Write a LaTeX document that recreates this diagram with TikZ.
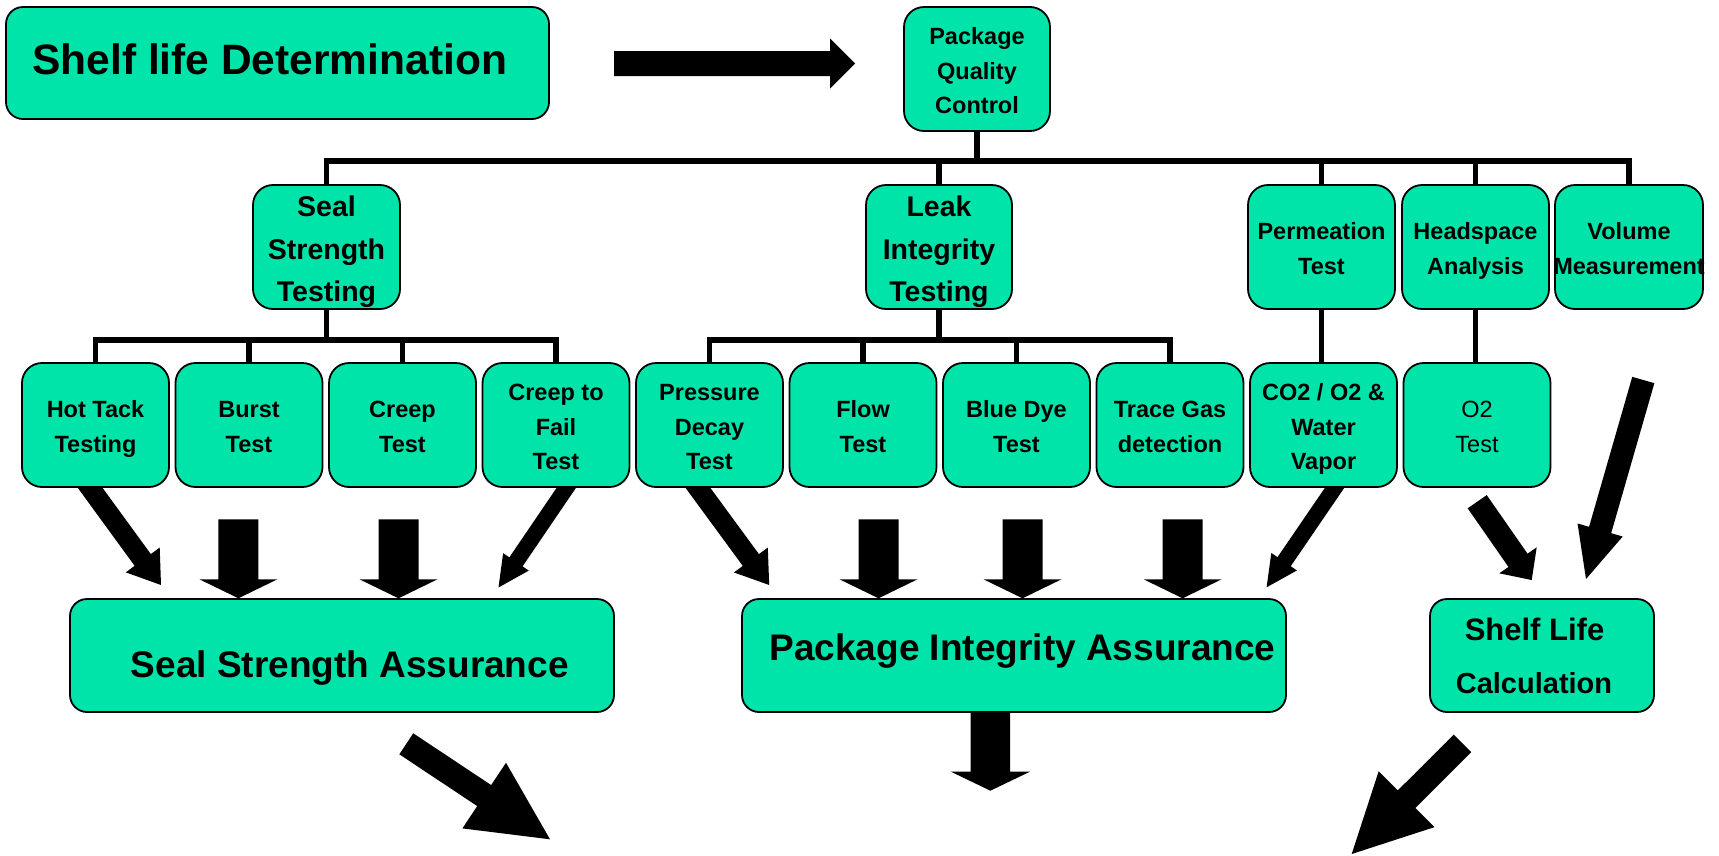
\documentclass[tikz,border=0pt]{standalone}
\usepackage{fontspec}
\setmainfont{Liberation Sans}
\usetikzlibrary{calc}

\definecolor{boxgreen}{RGB}{0,228,170}

\pgfdeclarelayer{background}
\pgfsetlayers{background,main}

% uniform line extents so every multi-line label centres the same way
\newcommand\topstrut{\vrule width 0pt height 1.07em depth 0pt\relax}
\newcommand\botstrut{\vrule width 0pt height 0pt depth 0.213em\relax}

% block arrow: #1 start, #2 tip, #3 half shaft width, #4 half head width, #5 head length
\newcommand\blockarrow[5]{%
  \coordinate (babase) at ($(#2)!#5!(#1)$);
  \fill[arrowfill] ($(#1)!#3!90:(#2)$) -- ($(babase)!#3!-90:(#1)$)
    -- ($(babase)!#4!-90:(#1)$) -- (#2) -- ($(babase)!#4!90:(#1)$)
    -- ($(babase)!#3!90:(#1)$) -- ($(#1)!#3!-90:(#2)$) -- cycle;
}

\begin{document}
\begin{tikzpicture}[x=1pt, y=-1pt,
  box/.style={draw=black, line width=1.8pt, fill=boxgreen, rounded corners=20pt,
    inner sep=0pt, align=center, minimum width=147pt, minimum height=124pt,
    font=\bfseries\fontsize{23.5pt}{34.5pt}\selectfont},
  headbox/.style={box, font=\bfseries\fontsize{28.5pt}{42.5pt}\selectfont},
  widebox/.style={draw=black, line width=1.8pt, fill=boxgreen, rounded corners=17pt,
    inner sep=0pt, minimum width=544pt, minimum height=113pt},
  bigtext/.style={anchor=base, inner sep=0pt, font=\bfseries\fontsize{37pt}{44pt}\selectfont},
  bus/.style={draw=black, line width=5.5pt, line join=miter, line cap=butt},
  arrowfill/.style={fill=black}]

\useasboundingbox (0,0) rectangle (1719,855);

% ---------- top level ----------
\node[box, minimum width=543pt, minimum height=112pt, rounded corners=17pt] (sld) at (277.5,63) {};
\node[anchor=base, inner sep=0pt, font=\bfseries\fontsize{42.5pt}{50pt}\selectfont] (sldtext) at (269.7,74) {Shelf life Determination};
\node[box, minimum width=146pt] (pqc) at (977,69) {\topstrut Package\\Quality\\Control\botstrut};

% ---------- second level ----------
\node[headbox] (seal) at (326.5,247) {\topstrut Seal\\Strength\\Testing\botstrut};
\node[headbox, minimum width=146pt] (leak) at (939,247) {\topstrut Leak\\Integrity\\Testing\botstrut};
\node[box] (perm) at (1321.5,247) {\topstrut Permeation\\Test\botstrut};
\node[box] (head) at (1475.5,247) {\topstrut Headspace\\Analysis\botstrut};
\node[box, minimum width=148pt] (vol) at (1629,247) {\topstrut Volume\\\makebox[0pt]{Measurement}\botstrut};

% ---------- individual tests ----------
\node[box] (hot)   at (95.5,425)  {\topstrut Hot Tack\\Testing\botstrut};
\node[box] (burst) at (249,425)   {\topstrut Burst\\Test\botstrut};
\node[box] (creep) at (402.5,425) {\topstrut Creep\\Test\botstrut};
\node[box] (ctf)   at (556,425)   {\topstrut Creep to\\Fail\\Test\botstrut};
\node[box] (pd)    at (709.5,425) {\topstrut Pressure\\Decay\\Test\botstrut};
\node[box] (flow)  at (863,425)   {\topstrut Flow\\Test\botstrut};
\node[box] (dye)   at (1016.5,425) {\topstrut Blue Dye\\Test\botstrut};
\node[box] (trace) at (1170,425)  {\topstrut Trace Gas\\detection\botstrut};
\node[box] (co2)   at (1323.5,425) {\topstrut CO2 / O2 \&\\Water\\Vapor\botstrut};
\node[box, font=\fontsize{23.5pt}{34.5pt}\selectfont] (otwo) at (1477,425) {\topstrut O2\\Test\botstrut};

% ---------- results ----------
\node[widebox] (ssa) at (342,655.5) {};
\node[bigtext] (ssatext) at (349.8,677) {Seal Strength Assurance};
\node[widebox] (pia) at (1014,655.5) {};
\node[bigtext] (piatext) at (1022.5,660) {Package Integrity Assurance};
\node[widebox, minimum width=224pt] (slc) at (1542,655.5) {};
\node[anchor=base, inner sep=0pt, font=\bfseries\fontsize{31pt}{37pt}\selectfont] (slctexta) at (1534.5,640) {Shelf Life};
\node[anchor=base, inner sep=0pt, font=\bfseries\fontsize{29pt}{35pt}\selectfont] (slctextb) at (1534,693) {Calculation};

\begin{pgfonlayer}{background}
  \fill[white] (0,0) rectangle (1719,855);

  % tree connectors
  \coordinate (busa) at (0,161);
  \coordinate (busb) at (0,340);
  \draw[bus] (seal.north) -- (seal.north |- busa) -- (vol.north |- busa) -- (vol.north);
  \draw[bus] (pqc.south) -- (pqc.south |- busa);
  \foreach \n in {leak,perm,head} \draw[bus] (\n.north) -- (\n.north |- busa);

  \draw[bus] (hot.north) -- (hot.north |- busb) -- (ctf.north |- busb) -- (ctf.north);
  \foreach \n in {burst,creep} \draw[bus] (\n.north) -- (\n.north |- busb);
  \draw[bus] (seal.south) -- (seal.south |- busb);

  \draw[bus] (pd.north) -- (pd.north |- busb) -- (trace.north |- busb) -- (trace.north);
  \foreach \n in {flow,dye} \draw[bus] (\n.north) -- (\n.north |- busb);
  \draw[bus] (leak.south) -- (leak.south |- busb);

  \draw[bus] (perm.south) -- (perm.south |- co2.north);
  \draw[bus] (head.south) -- (head.south |- otwo.north);

  % block arrows
  \coordinate (topS) at (614,63.5);    \coordinate (topT) at (855,63.5);
  \blockarrow{topS}{topT}{12.5pt}{25pt}{25pt}

  \coordinate (hotS) at (83,478);      \coordinate (hotT) at (161,585);
  \blockarrow{hotS}{hotT}{10pt}{21pt}{31pt}
  \coordinate (burstS) at (238.4,519.3); \coordinate (burstT) at (238.4,598.3);
  \blockarrow{burstS}{burstT}{20pt}{39pt}{19pt}
  \coordinate (creepS) at (398.5,519.3); \coordinate (creepT) at (398.5,598.3);
  \blockarrow{creepS}{creepT}{20pt}{39pt}{19pt}
  \coordinate (ctfS) at (573,478);     \coordinate (ctfT) at (498.5,587.5);
  \blockarrow{ctfS}{ctfT}{8pt}{15.5pt}{31pt}

  \coordinate (pdS) at (690.7,478);    \coordinate (pdT) at (769.2,585);
  \blockarrow{pdS}{pdT}{10pt}{21pt}{31pt}
  \coordinate (flowS) at (878.5,519.3); \coordinate (flowT) at (878.5,598.3);
  \blockarrow{flowS}{flowT}{20pt}{39pt}{19pt}
  \coordinate (dyeS) at (1022.5,519.3); \coordinate (dyeT) at (1022.5,598.3);
  \blockarrow{dyeS}{dyeT}{20pt}{39pt}{19pt}
  \coordinate (traceS) at (1182.6,519.3); \coordinate (traceT) at (1182.6,598.3);
  \blockarrow{traceS}{traceT}{20pt}{39pt}{19pt}
  \coordinate (coS) at (1341.3,478);   \coordinate (coT) at (1266.6,587.3);
  \blockarrow{coS}{coT}{8pt}{15.5pt}{31pt}

  \coordinate (otS) at (1477.2,501.7); \coordinate (otT) at (1531.7,580);
  \blockarrow{otS}{otT}{11.6pt}{22.8pt}{24pt}
  \coordinate (volS) at (1643.3,380);  \coordinate (volT) at (1586,579);
  \blockarrow{volS}{volT}{11.5pt}{23.5pt}{51pt}

  \coordinate (piaS) at (990.4,700);   \coordinate (piaT) at (990.4,790.7);
  \blockarrow{piaS}{piaT}{19.7pt}{39.5pt}{19pt}
  \coordinate (ssaS) at (406.3,743.8); \coordinate (ssaT) at (550,839.3);
  \blockarrow{ssaS}{ssaT}{12.6pt}{39.4pt}{79pt}
  \coordinate (slcS) at (1462.5,743.3); \coordinate (slcT) at (1351.7,854);
  \blockarrow{slcS}{slcT}{12.4pt}{39.5pt}{77.6pt}
\end{pgfonlayer}

\end{tikzpicture}
\end{document}
